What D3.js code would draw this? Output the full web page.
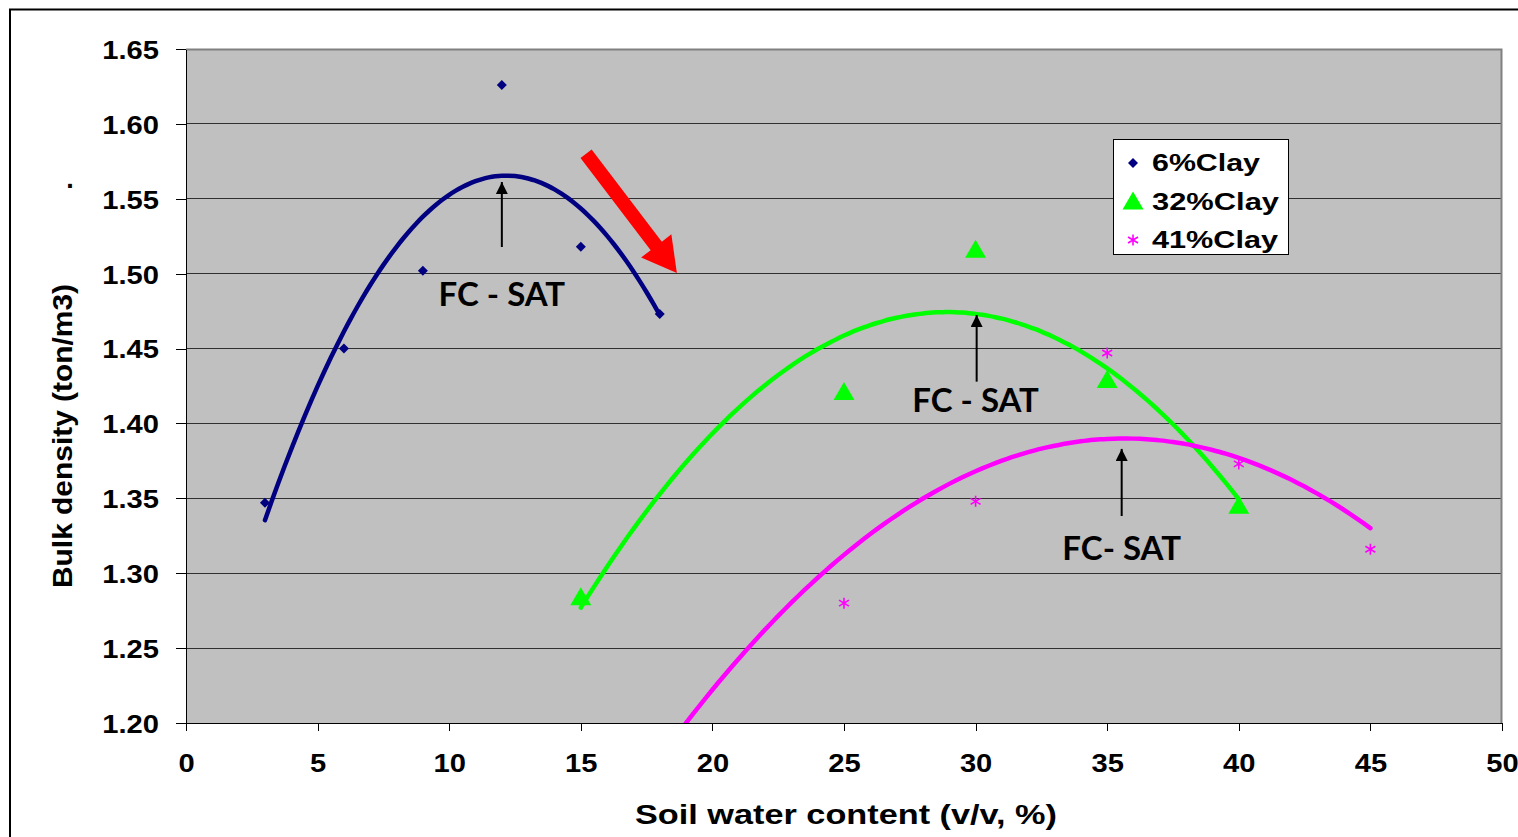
<!DOCTYPE html>
<meta charset="utf-8">
<head>
<style>
body { margin: 0; background: #fff; }
svg { display: block; }
.axis text {
  font-family: "Liberation Sans", Arial, sans-serif;
  font-weight: bold;
  font-size: 26px;
  fill: #000;
}
.axis path, .axis line {
  fill: none;
  stroke: #000;
  shape-rendering: crispEdges;
}
.grid line {
  stroke: #303030;
  shape-rendering: crispEdges;
}
.title, .legend text {
  font-family: "Liberation Sans", Arial, sans-serif;
  font-weight: bold;
  fill: #000;
}
.note {
  font-family: Lato, "Open Sans", sans-serif;
  font-weight: bold;
  font-size: 33px;
  fill: #000;
}
</style>
</head>
<body>
<div id="chart"></div>

<script src="https://d3js.org/d3.v7.min.js"></script>
<script>

// soil water content (v/v, %) and bulk density (ton/m3)
var clay6X  = [3, 6, 9, 12, 15, 18];
var clay6Y  = [1.347, 1.450, 1.502, 1.626, 1.518, 1.473];
var clay32X = [15, 25, 30, 35, 40];
var clay32Y = [1.284, 1.421, 1.516, 1.429, 1.345];
// the 41% set has a point at 15 below the axis minimum (only its trendline shows)
var clay41X = [15, 25, 30, 35, 40, 45];
var clay41Y = [1.111, 1.280, 1.348, 1.447, 1.373, 1.316];

var seriesNames = ["6%Clay", "32%Clay", "41%Clay"];
var xTicks = [0, 5, 10, 15, 20, 25, 30, 35, 40, 45, 50];
var yTicks = [1.20, 1.25, 1.30, 1.35, 1.40, 1.45, 1.50, 1.55, 1.60, 1.65];

// annotation positions, in data units
var notes = [
  {text: "FC - SAT", x: 12.0, y: 1.4784, ax: 12.0, y0: 1.5178, y1: 1.5612},
  {text: "FC - SAT", x: 30.0, y: 1.4077, ax: 30.04, y0: 1.4279, y1: 1.4724},
  {text: "FC- SAT", x: 35.55, y: 1.3089, ax: 35.55, y0: 1.3382, y1: 1.383}
];
var redArrow = {x0: 15.2, y0: 1.580, x1: 18.65, y1: 1.5005};

var margin = {top: 49, right: 16, bottom: 114, left: 186},
    width = 1518 - margin.left - margin.right,
    height = 837 - margin.top - margin.bottom;

var x = d3.scaleLinear().domain([0, 50]).range([0, width]);
var y = d3.scaleLinear().domain([1.20, 1.65]).range([height, 0]);

var svgRoot = d3.select("#chart").append("svg")
    .attr("width", 1518)
    .attr("height", 837);

// outer chart frame (runs off the right and bottom of the picture)
svgRoot.append("rect")
    .attr("x", 10).attr("y", 9.5)
    .attr("width", 1530).attr("height", 850)
    .attr("fill", "none")
    .attr("stroke", "#000")
    .attr("stroke-width", 2);

var svg = svgRoot.append("g")
    .attr("transform", "translate(" + margin.left + "," + margin.top + ")");

svg.append("defs").append("clipPath").attr("id", "plotclip")
  .append("rect").attr("width", width).attr("height", height);

svg.append("rect")
    .attr("width", width)
    .attr("height", height)
    .attr("fill", "#c0c0c0");

svg.append("g")
    .attr("class", "grid")
  .selectAll("line")
    .data(yTicks.slice(1))
  .enter().append("line")
    .attr("x1", 0).attr("x2", width)
    .attr("y1", function(d) { return y(d); })
    .attr("y2", function(d) { return y(d); });

// plot border top / right
svg.append("path")
    .attr("d", "M0,0.5H" + (width - 0.5) + "V" + height)
    .attr("fill", "none")
    .attr("stroke", "#808080")
    .attr("stroke-width", 2);

function stretch(sel, k) {
  sel.each(function() {
    var w = this.getComputedTextLength();
    d3.select(this).attr("textLength", w * k).attr("lengthAdjust", "spacingAndGlyphs");
  });
}

var xAxis = d3.axisBottom(x)
    .tickValues(xTicks)
    .tickFormat(d3.format("d"))
    .tickSizeInner(8)
    .tickSizeOuter(0)
    .tickPadding(23);

var yAxis = d3.axisLeft(y)
    .tickValues(yTicks)
    .tickFormat(d3.format(".2f"))
    .tickSizeInner(10)
    .tickSizeOuter(0)
    .tickPadding(17);

var gx = svg.append("g")
    .attr("class", "x axis")
    .attr("transform", "translate(0," + height + ")")
    .call(xAxis);
gx.selectAll("text").call(stretch, 1.12);

var gy = svg.append("g")
    .attr("class", "y axis")
    .call(yAxis);
gy.selectAll("text").attr("dy", "0.36em").call(stretch, 1.12);

// quadratic least-squares trendline, same as the spreadsheet's polynomial fit
function quadFit(xs, ys) {
  var S = [0, 0, 0, 0, 0], T = [0, 0, 0];
  xs.forEach(function(xv, i) {
    for (var p = 0; p < 5; p++) S[p] += Math.pow(xv, p);
    for (var q = 0; q < 3; q++) T[q] += ys[i] * Math.pow(xv, q);
  });
  var M = [[S[0], S[1], S[2], T[0]], [S[1], S[2], S[3], T[1]], [S[2], S[3], S[4], T[2]]];
  for (var c = 0; c < 3; c++) {
    for (var r = c + 1; r < 3; r++) {
      var f = M[r][c] / M[c][c];
      for (var k = c; k < 4; k++) M[r][k] -= f * M[c][k];
    }
  }
  var b = [0, 0, 0];
  for (var r2 = 2; r2 >= 0; r2--) {
    var s = M[r2][3];
    for (var k2 = r2 + 1; k2 < 3; k2++) s -= M[r2][k2] * b[k2];
    b[r2] = s / M[r2][r2];
  }
  return function(xv) { return b[0] + b[1] * xv + b[2] * xv * xv; };
}

var series = [
  {name: seriesNames[0], xs: clay6X, ys: clay6Y, color: "#000080", shape: "diamond"},
  {name: seriesNames[1], xs: clay32X, ys: clay32Y, color: "#00ff00", shape: "triangle"},
  {name: seriesNames[2], xs: clay41X, ys: clay41Y, color: "#ff00ff", shape: "star"}
];

var line = d3.line()
    .x(function(d) { return x(d[0]); })
    .y(function(d) { return y(d[1]); })
    .curve(d3.curveMonotoneX);

var plot = svg.append("g").attr("clip-path", "url(#plotclip)");

function marker(g, shape, color) {
  if (shape === "diamond") {
    g.append("path").attr("d", "M0,-5L5,0L0,5L-5,0Z").attr("fill", color);
  } else if (shape === "triangle") {
    g.append("path").attr("d", "M0,-10L10.5,8L-10.5,8Z").attr("fill", color);
  } else {
    g.append("path")
        .attr("d", "M0,-5.5V5.5M-5,-3L5,3M-5,3L5,-3")
        .attr("stroke", color)
        .attr("stroke-width", 1.6)
        .attr("fill", "none");
  }
}

series.forEach(function(s) {
  var fit = quadFit(s.xs, s.ys);
  var lo = d3.min(s.xs), hi = d3.max(s.xs);
  var pts = d3.range(lo, hi + 0.001, 0.25).map(function(v) { return [v, fit(v)]; });
  plot.append("path")
      .datum(pts)
      .attr("d", line)
      .attr("fill", "none")
      .attr("stroke", s.color)
      .attr("stroke-width", 4.5)
      .attr("stroke-linecap", "round");
});

series.forEach(function(s) {
  plot.selectAll(null)
      .data(s.xs.map(function(v, i) { return [v, s.ys[i]]; }))
    .enter().append("g")
      .attr("transform", function(d) { return "translate(" + x(d[0]) + "," + y(d[1]) + ")"; })
      .each(function() { marker(d3.select(this), s.shape, s.color); });
});

// annotation arrows and labels
svg.append("defs").append("marker")
    .attr("id", "head")
    .attr("viewBox", "0 0 10 10")
    .attr("refX", 10).attr("refY", 5)
    .attr("markerWidth", 12).attr("markerHeight", 12)
    .attr("markerUnits", "userSpaceOnUse")
    .attr("orient", "auto")
  .append("path")
    .attr("d", "M0,0L10,5L0,10Z")
    .attr("fill", "#000");

notes.forEach(function(n) {
  svg.append("line")
      .attr("x1", x(n.ax)).attr("x2", x(n.ax))
      .attr("y1", y(n.y0)).attr("y2", y(n.y1))
      .attr("stroke", "#000")
      .attr("stroke-width", 2)
      .attr("marker-end", "url(#head)");
  svg.append("text")
      .attr("class", "note")
      .attr("x", x(n.x))
      .attr("y", y(n.y))
      .attr("text-anchor", "middle")
      .text(n.text);
});

// big red arrow
(function() {
  var ax0 = x(redArrow.x0), ay0 = y(redArrow.y0), ax1 = x(redArrow.x1), ay1 = y(redArrow.y1);
  var len = Math.hypot(ax1 - ax0, ay1 - ay0), ux = (ax1 - ax0) / len, uy = (ay1 - ay0) / len;
  var px = -uy, py = ux, sw = 7, hw = 19, hl = 34;
  var bx = ax1 - ux * hl, by = ay1 - uy * hl;
  var p = [
    [ax0 + px * sw, ay0 + py * sw], [bx + px * sw, by + py * sw], [bx + px * hw, by + py * hw],
    [ax1, ay1],
    [bx - px * hw, by - py * hw], [bx - px * sw, by - py * sw], [ax0 - px * sw, ay0 - py * sw]
  ];
  svg.append("path")
      .attr("d", "M" + p.join("L") + "Z")
      .attr("fill", "#ff0000");
})();

// legend
var legend = svgRoot.append("g").attr("class", "legend");
legend.append("rect")
    .attr("x", 1113.5).attr("y", 139.5)
    .attr("width", 175).attr("height", 115)
    .attr("fill", "#fff")
    .attr("stroke", "#000")
    .attr("stroke-width", 1);
var legW = [108, 127, 126];
series.forEach(function(s, i) {
  var cy = 163 + i * 38.5;
  var g = legend.append("g").attr("transform", "translate(1133," + cy + ")");
  marker(g, s.shape, s.color);
  legend.append("text")
      .attr("x", 1152).attr("y", cy + 8)
      .style("font-size", "23px")
      .attr("textLength", legW[i])
      .attr("lengthAdjust", "spacingAndGlyphs")
      .text(s.name);
});

// axis titles
svgRoot.append("text")
    .attr("class", "title")
    .attr("x", 846).attr("y", 824)
    .attr("text-anchor", "middle")
    .style("font-size", "28px")
    .text("Soil water content (v/v, %)")
    .attr("textLength", 422)
    .attr("lengthAdjust", "spacingAndGlyphs");

svgRoot.append("text")
    .attr("class", "title")
    .attr("transform", "translate(72,436) rotate(-90)")
    .attr("text-anchor", "middle")
    .style("font-size", "27px")
    .text("Bulk density (ton/m3)")
    .attr("textLength", 304)
    .attr("lengthAdjust", "spacingAndGlyphs");

svgRoot.append("text")
    .attr("class", "title")
    .attr("x", 70).attr("y", 188)
    .attr("text-anchor", "middle")
    .style("font-size", "27px")
    .text(".");

</script>
</body>
